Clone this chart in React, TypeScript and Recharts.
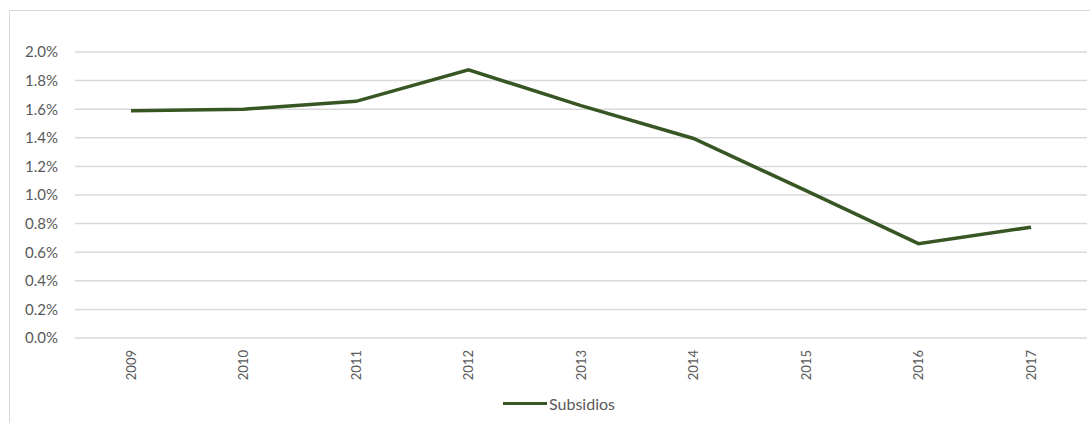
import React from "react";
import { LineChart, Line, XAxis, YAxis, CartesianGrid, Legend } from "recharts";

const years = ["2009", "2010", "2011", "2012", "2013", "2014", "2015", "2016", "2017"];
const subsidios = [1.59, 1.6, 1.655, 1.875, 1.625, 1.395, 1.03, 0.66, 0.775];
const yTicks = [0, 0.2, 0.4, 0.6, 0.8, 1.0, 1.2, 1.4, 1.6, 1.8, 2.0];

const data = years.map((year, i) => ({ year, Subsidios: subsidios[i] }));

const TEXT = "#595959";
const GREEN = "#375623";

function YearTick(props: any) {
  const { x, y, payload } = props;
  return (
    <text
      x={0}
      y={0}
      transform={`translate(${x},${y + 10}) rotate(-90)`}
      textAnchor="end"
      dy="0.35em"
      fill={TEXT}
      fontSize={13}
      fontFamily="Lato, sans-serif"
    >
      {payload.value}
    </text>
  );
}

function LegendContent() {
  return (
    <div style={{ display: "flex", alignItems: "center", height: 20, paddingLeft: 503 }}>
      <div style={{ width: 44, height: 3, background: GREEN, marginRight: 2 }} />
      <span style={{ color: TEXT, fontSize: 16, fontFamily: "Lato, sans-serif" }}>Subsidios</span>
    </div>
  );
}

export default function App() {
  return (
    <div style={{ position: "fixed", left: 0, top: 0, width: 1090, height: 423, overflow: "hidden", background: "#fff" }}>
      <div
        style={{
          position: "absolute",
          left: 9,
          top: 10,
          width: 1200,
          height: 500,
          border: "1px solid #d9d9d9",
        }}
      />
      <div style={{ position: "absolute", left: 0, top: 0 }}>
        <LineChart width={1090} height={423} data={data} margin={{ top: 52, right: 3, bottom: 10, left: 0 }}>
          <CartesianGrid vertical={false} stroke="#d9d9d9" strokeWidth={1.5} />
          <XAxis
            dataKey="year"
            axisLine={false}
            tickLine={false}
            tickSize={0}
            height={55}
            interval={0}
            padding={{ left: 56, right: 56 }}
            tick={<YearTick />}
          />
          <YAxis
            width={75}
            domain={[0, 2]}
            ticks={yTicks}
            axisLine={false}
            tickLine={false}
            tickSize={0}
            tickMargin={17}
            tickFormatter={(v: number) => `${v.toFixed(1)}%`}
            tick={{ fill: TEXT, fontSize: 15, fontFamily: "Lato, sans-serif" }}
          />
          <Legend
            verticalAlign="bottom"
            height={20}
            wrapperStyle={{ left: 0, width: 1090 }}
            content={<LegendContent />}
          />
          <Line
            type="linear"
            dataKey="Subsidios"
            stroke={GREEN}
            strokeWidth={3.5}
            dot={false}
            isAnimationActive={false}
          />
        </LineChart>
      </div>
    </div>
  );
}
